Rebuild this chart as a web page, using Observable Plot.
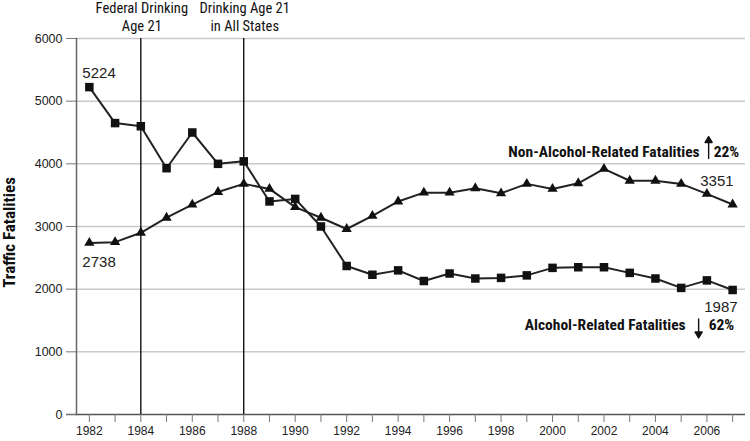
<!DOCTYPE html>
<html>
<head>
<meta charset="utf-8">
<script src="https://cdn.jsdelivr.net/npm/d3@7"></script>
<script src="https://cdn.jsdelivr.net/npm/@observablehq/plot@0.6"></script>
<style>
  html, body { margin: 0; padding: 0; background: #fff; }
  #chart svg { display: block; }
</style>
</head>
<body>
<div id="chart"></div>
<script>
const years = [1982,1983,1984,1985,1986,1987,1988,1989,1990,1991,1992,1993,1994,1995,1996,1997,1998,1999,2000,2001,2002,2003,2004,2005,2006,2007];
const alcohol = [5224,4650,4600,3930,4500,4000,4040,3400,3440,3000,2370,2230,2300,2130,2250,2170,2180,2220,2340,2350,2350,2260,2170,2020,2140,1987];
const nonAlcohol = [2738,2750,2900,3140,3350,3550,3680,3600,3310,3140,2960,3170,3400,3540,3540,3610,3530,3680,3600,3690,3920,3730,3730,3680,3520,3351];
const yTicks = [0,1000,2000,3000,4000,5000,6000];
const events = [
  {year: 1984, label: "Federal Drinking\nAge 21"},
  {year: 1988, label: "Drinking Age 21\nin All States"}
];
const yLabel = "Traffic Fatalities";
const nonLabel = {name: "Non-Alcohol-Related Fatalities", pct: "22%"};
const alcLabel = {name: "Alcohol-Related Fatalities", pct: "62%"};

const alcData = years.map((y, i) => ({year: y, value: alcohol[i]}));
const nonData = years.map((y, i) => ({year: y, value: nonAlcohol[i]}));
const alcFirst = alcData[0], alcLast = alcData[alcData.length - 1];
const nonFirst = nonData[0], nonLast = nonData[nonData.length - 1];

const cond = "'Roboto Condensed', 'DejaVu Sans Condensed', sans-serif";
const sans = "'Liberation Sans', Arial, sans-serif";

// thin arrow with a small filled head, pointing along the vector
const arrowShape = {
  draw(ctx, l, r) {
    const h = r * 1.7;
    ctx.moveTo(0, 0);
    ctx.lineTo(0, -l + h);
    ctx.moveTo(-r, -l + h);
    ctx.lineTo(0, -l);
    ctx.lineTo(r, -l + h);
    ctx.closePath();
  }
};

const chart = Plot.plot({
  width: 750,
  height: 441,
  marginTop: 38,
  marginBottom: 27,
  marginLeft: 76,
  marginRight: 5,
  style: {fontFamily: sans, fontSize: "13px", color: "#222", background: "#fff"},
  x: {domain: [1981.5, 2007.5]},
  y: {domain: [0, 6000]},
  marks: [
    Plot.gridY(yTicks.filter(d => d > 0), {stroke: "#c9c9c9", strokeOpacity: 1, strokeWidth: 1.5}),
    Plot.ruleY([0], {stroke: "#555", strokeWidth: 1.5, insetLeft: -10}),
    Plot.frame({anchor: "left", stroke: "#666", strokeWidth: 1.5}),
    Plot.axisY({ticks: yTicks, tickSize: 10, tickPadding: 4, label: null, stroke: "#777", fontSize: 12.5,
      tickFormat: d => String(d)}),
    Plot.axisX({ticks: years, tickSize: 8, tickPadding: 4, label: null, stroke: "#777", fontSize: 12,
      tickFormat: d => d % 2 === 0 ? String(d) : ""}),
    Plot.ruleX(events, {x: "year", y1: 0, y2: 6000, stroke: "#000", strokeWidth: 1.3}),
    Plot.text(events, {x: "year", y: 6000, text: "label", lineAnchor: "bottom", dy: -8, dx: 1,
      fontSize: 14.5, lineHeight: 1.18, fill: "#111", fontFamily: cond}),
    Plot.text([yLabel], {frameAnchor: "left", textAnchor: "middle", rotate: -90, dx: -67, dy: 6,
      fontWeight: "bold", fontSize: 17, fontFamily: cond, fill: "#111"}),
    Plot.line(alcData, {x: "year", y: "value", stroke: "#222", strokeWidth: 2}),
    Plot.line(nonData, {x: "year", y: "value", stroke: "#222", strokeWidth: 2}),
    Plot.dot(alcData, {x: "year", y: "value", symbol: "square", r: 4.8, fill: "#111", stroke: "none"}),
    Plot.dot(nonData, {x: "year", y: "value", symbol: "triangle", r: 3.8, fill: "#111", stroke: "none"}),
    Plot.text([alcFirst], {x: "year", y: "value", text: d => String(d.value), textAnchor: "start", dx: -7, dy: -14, fontSize: 15}),
    Plot.text([nonFirst], {x: "year", y: "value", text: d => String(d.value), textAnchor: "start", dx: -7, dy: 19, fontSize: 15}),
    Plot.text([nonLast], {x: "year", y: "value", text: d => String(d.value), textAnchor: "end", dx: 1, dy: -23, fontSize: 15}),
    Plot.text([alcLast], {x: "year", y: "value", text: d => String(d.value), textAnchor: "end", dx: 5, dy: 17, fontSize: 15}),
    Plot.text([nonLast], {x: "year", y: "value", text: () => nonLabel.name, textAnchor: "end", dx: -33, dy: -52, fontSize: 15.5, fontWeight: "bold", fontFamily: cond, fill: "#111"}),
    Plot.vector([nonLast], {x: "year", y: "value", length: 22, rotate: 0, anchor: "start", shape: arrowShape, r: 3.5,
      dx: -24, dy: -46, stroke: "#111", fill: "#111", strokeWidth: 1.4}),
    Plot.text([nonLast], {x: "year", y: "value", text: () => nonLabel.pct, textAnchor: "start", dx: -19, dy: -52, fontSize: 15.5, fontWeight: "bold", fontFamily: cond, fill: "#111"}),
    Plot.text([alcLast], {x: "year", y: "value", text: () => alcLabel.name, textAnchor: "end", dx: -47, dy: 35, fontSize: 15.5, fontWeight: "bold", fontFamily: cond, fill: "#111"}),
    Plot.vector([alcLast], {x: "year", y: "value", length: 19, rotate: 180, anchor: "start", shape: arrowShape, r: 3.5,
      dx: -34, dy: 29, stroke: "#111", fill: "#111", strokeWidth: 1.4}),
    Plot.text([alcLast], {x: "year", y: "value", text: () => alcLabel.pct, textAnchor: "start", dx: -24, dy: 35, fontSize: 15.5, fontWeight: "bold", fontFamily: cond, fill: "#111"})
  ]
});
document.getElementById("chart").appendChild(chart);
</script>
</body>
</html>
